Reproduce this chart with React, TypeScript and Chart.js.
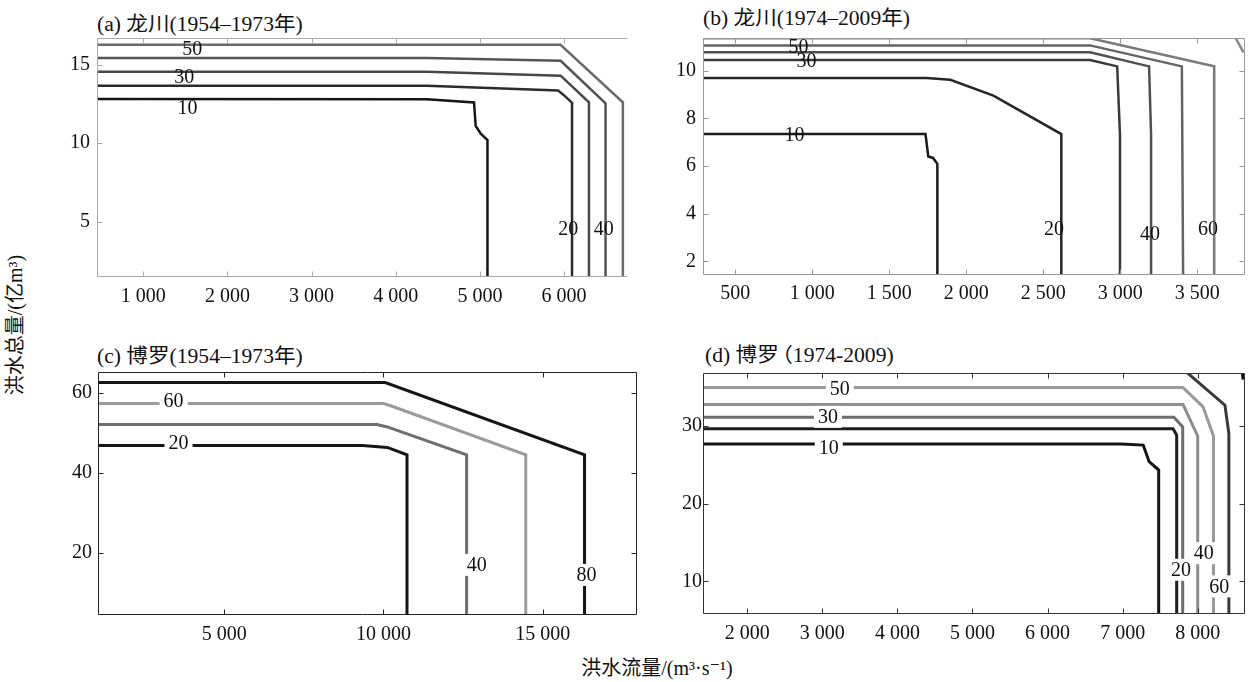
import React, { useEffect, useRef } from 'react';
import { Chart, registerables } from 'chart.js';

Chart.register(...registerables);

type Pt = [number, number];
type Lbl = { x: number; y: number; t: string };

// ---------- Panel (a) 龙川 1954–1973 ----------
const aXRange: Pt = [450, 6760];
const aYRange: Pt = [1.48, 16.7];
const aXTicks = [1000, 2000, 3000, 4000, 5000, 6000];
const aYTicks = [5, 10, 15];
const a10: Pt[] = [[450, 12.82], [4370, 12.8], [4930, 12.6], [4950, 11.1], [5010, 10.6], [5090, 10.2], [5090, 1.4]];
const a20: Pt[] = [[450, 13.66], [4370, 13.66], [5930, 13.36], [6010, 13.0], [6095, 12.58], [6095, 1.4]];
const a30: Pt[] = [[450, 14.55], [4370, 14.55], [5960, 14.3], [6296, 12.6], [6296, 1.4]];
const a40: Pt[] = [[450, 15.43], [4370, 15.43], [5960, 15.25], [6493, 12.54], [6493, 1.4]];
const a50: Pt[] = [[450, 16.27], [5958, 16.27], [6699, 12.6], [6699, 1.4]];
const aLabels: Lbl[] = [
  { x: 1583, y: 16.0, t: '50' }, { x: 1486, y: 14.26, t: '30' }, { x: 1525, y: 12.29, t: '10' },
  { x: 6051, y: 4.54, t: '20' }, { x: 6473, y: 4.54, t: '40' },
];

// ---------- Panel (b) 龙川 1974–2009 ----------
const bXRange: Pt = [290, 3810];
const bYRange: Pt = [1.43, 11.37];
const bXTicks = [500, 1000, 1500, 2000, 2500, 3000, 3500];
const bYTicks = [2, 4, 6, 8, 10];
const b10: Pt[] = [[290, 7.34], [1735, 7.34], [1753, 6.4], [1784, 6.34], [1812, 6.09], [1812, 1.4]];
const b20: Pt[] = [[290, 9.69], [1740, 9.69], [1896, 9.62], [2176, 8.95], [2617, 7.34], [2617, 1.4]];
const b30: Pt[] = [[290, 10.45], [2804, 10.45], [2980, 10.18], [2998, 7.3], [2998, 1.4]];
const b40: Pt[] = [[290, 10.77], [2804, 10.77], [3187, 10.18], [3200, 7.3], [3200, 1.4]];
const b50: Pt[] = [[290, 11.06], [2804, 11.06], [3400, 10.18], [3408, 1.4]];
const b60: Pt[] = [[290, 11.36], [2804, 11.36], [3610, 10.18], [3610, 1.4]];
const b70: Pt[] = [[3750, 11.36], [3800, 10.77]];
const bLabels: Lbl[] = [
  { x: 910, y: 11.02, t: '50' }, { x: 962, y: 10.42, t: '30' }, { x: 884, y: 7.31, t: '10' },
  { x: 2570, y: 3.39, t: '20' }, { x: 3193, y: 3.18, t: '40' }, { x: 3570, y: 3.35, t: '60' },
];

// ---------- Panel (c) 博罗 1954–1973 ----------
const cXRange: Pt = [1040, 17960];
const cYRange: Pt = [4.6, 65.2];
const cXTicks = [5000, 10000, 15000];
const cYTicks = [20, 40, 60];
const c20: Pt[] = [[1000, 46.9], [9347, 46.9], [10121, 46.4], [10740, 44.56], [10740, 4]];
const c40: Pt[] = [[1000, 52.1], [9799, 52.1], [10121, 51.5], [12611, 44.56], [12611, 4]];
const c60: Pt[] = [[1000, 57.34], [9992, 57.34], [10186, 56.9], [14469, 44.56], [14469, 4]];
const c80: Pt[] = [[1000, 62.57], [10057, 62.57], [16313, 44.56], [16313, 4]];
const cLabels: Lbl[] = [
  { x: 3413, y: 58.0, t: '60' }, { x: 3568, y: 47.6, t: '20' },
  { x: 12930, y: 17.1, t: '40' }, { x: 16378, y: 14.6, t: '80' },
];

// ---------- Panel (d) 博罗 1974-2009 ----------
const dXRange: Pt = [1410, 8630];
const dYRange: Pt = [5.8, 36.85];
const dXTicks = [2000, 3000, 4000, 5000, 6000, 7000, 8000];
const dYTicks = [10, 20, 30];
const d10: Pt[] = [[1400, 27.69], [6981, 27.69], [7274, 27.56], [7353, 25.42], [7480, 24.35], [7480, 5]];
const d20: Pt[] = [[1400, 29.66], [7672, 29.66], [7720, 28.84], [7720, 5]];
const d30: Pt[] = [[1400, 31.15], [7683, 31.15], [7800, 29.91], [7800, 5]];
const d40: Pt[] = [[1400, 32.78], [7805, 32.78], [8000, 28.72], [8000, 5]];
const d50: Pt[] = [[1400, 34.97], [7805, 34.97], [8071, 32.48], [8210, 28.72], [8210, 5]];
const d60: Pt[] = [[7858, 36.9], [8363, 32.7], [8415, 29.06], [8415, 5]];
const d70: Pt[] = [[8595, 36.85], [8605, 36.0]];
const dLabels: Lbl[] = [
  { x: 3233, y: 34.84, t: '50' }, { x: 3074, y: 31.2, t: '30' }, { x: 3085, y: 27.26, t: '10' },
  { x: 8082, y: 13.64, t: '40' }, { x: 7777, y: 11.5, t: '20' }, { x: 8287, y: 9.36, t: '60' },
];

const FONT = '"Liberation Serif", "DejaVu Serif", serif, "Noto Sans CJK SC"';
const FS = 20;

const fmt = (v: number) => {
  if (v < 1000) return String(v);
  const s = String(v);
  return s.slice(0, s.length - 3) + ' ' + s.slice(s.length - 3);
};

type Sides = { top: boolean; right: boolean; bottom: boolean; left: boolean };
type PanelCfg = {
  box: { left: number; top: number; width: number; height: number };
  plot: { left: number; top: number; right: number; bottom: number };
  xRange: Pt; yRange: Pt; xTicks: number[]; yTicks: number[];
  lines: { pts: Pt[]; color: string }[];
  lineWidth: number;
  labels: Lbl[]; labelBg: boolean;
  frameColor: string; sides: Sides;
  xPad: number; yPad: number;
};

function Panel({ cfg }: { cfg: PanelCfg }) {
  const ref = useRef<HTMLCanvasElement>(null);
  useEffect(() => {
    const canvas = ref.current!;
    const { box, plot } = cfg;
    const yAxisW = plot.left - box.left;
    const xAxisH = box.top + box.height - plot.bottom;
    const padTop = plot.top - box.top;
    const padRight = box.left + box.width - plot.right;

    const framePlugin = {
      id: 'frame',
      afterDraw(chart: any) {
        const { ctx, chartArea: a, scales } = chart;
        const xs = scales.x, ys = scales.y;
        const L = Math.round(a.left) + 0.5, R = Math.round(a.right) - 0.5;
        const T = Math.round(a.top) + 0.5, B = Math.round(a.bottom) - 0.5;
        const s = cfg.sides, tl = 5;
        ctx.save();
        ctx.strokeStyle = cfg.frameColor;
        ctx.lineWidth = 1;
        ctx.beginPath();
        if (s.top) { ctx.moveTo(L, T); ctx.lineTo(R, T); }
        if (s.bottom) { ctx.moveTo(L, B); ctx.lineTo(R, B); }
        if (s.left) { ctx.moveTo(L, T); ctx.lineTo(L, B); }
        if (s.right) { ctx.moveTo(R, T); ctx.lineTo(R, B); }
        xs.ticks.forEach((t: any) => {
          const px = Math.round(xs.getPixelForValue(t.value)) + 0.5;
          if (s.top) { ctx.moveTo(px, T); ctx.lineTo(px, T + tl); }
          if (s.bottom) { ctx.moveTo(px, B); ctx.lineTo(px, B - tl); }
        });
        ys.ticks.forEach((t: any) => {
          const py = Math.round(ys.getPixelForValue(t.value)) + 0.5;
          if (s.left) { ctx.moveTo(L, py); ctx.lineTo(L + tl, py); }
          if (s.right) { ctx.moveTo(R, py); ctx.lineTo(R - tl, py); }
        });
        ctx.stroke();
        ctx.restore();
      },
    };

    const labelPlugin = {
      id: 'clabels',
      afterDatasetsDraw(chart: any) {
        const { ctx, scales } = chart;
        const xs = scales.x, ys = scales.y;
        ctx.save();
        ctx.font = `${FS}px ${FONT}`;
        ctx.textAlign = 'center';
        ctx.textBaseline = 'middle';
        cfg.labels.forEach((l) => {
          const px = xs.getPixelForValue(l.x);
          const py = ys.getPixelForValue(l.y);
          const w = ctx.measureText(l.t).width;
          if (cfg.labelBg) {
            ctx.fillStyle = '#fff';
            ctx.fillRect(px - w / 2 - 4, py - 11, w + 8, 22);
          }
          ctx.fillStyle = '#111';
          ctx.fillText(l.t, px, py + 1);
        });
        ctx.restore();
      },
    };

    const chart = new Chart(canvas, {
      type: 'scatter',
      data: {
        datasets: cfg.lines.map((ln) => ({
          data: ln.pts.map(([x, y]) => ({ x, y })),
          showLine: true,
          borderColor: ln.color,
          backgroundColor: ln.color,
          borderWidth: cfg.lineWidth,
          pointRadius: 0,
          pointHoverRadius: 0,
          fill: false,
          tension: 0,
          borderJoinStyle: 'miter' as const,
        })),
      },
      options: {
        animation: false,
        responsive: false,
        maintainAspectRatio: false,
        layout: { padding: { top: padTop, right: padRight, left: 0, bottom: 0 } },
        plugins: { legend: { display: false }, tooltip: { enabled: false }, title: { display: false } },
        scales: {
          x: {
            type: 'linear',
            min: cfg.xRange[0],
            max: cfg.xRange[1],
            grid: { display: false, drawTicks: false },
            border: { display: false },
            ticks: {
              font: { family: FONT, size: FS },
              color: '#111',
              padding: cfg.xPad,
              maxRotation: 0,
              autoSkip: false,
              callback: (v: any) => fmt(Number(v)),
            },
            afterBuildTicks: (s: any) => { s.ticks = cfg.xTicks.map((v) => ({ value: v })); },
            afterFit: (s: any) => { s.height = xAxisH; },
          },
          y: {
            type: 'linear',
            min: cfg.yRange[0],
            max: cfg.yRange[1],
            grid: { display: false, drawTicks: false },
            border: { display: false },
            ticks: {
              font: { family: FONT, size: FS },
              color: '#111',
              padding: cfg.yPad,
              autoSkip: false,
              callback: (v: any) => fmt(Number(v)),
            },
            afterBuildTicks: (s: any) => { s.ticks = cfg.yTicks.map((v) => ({ value: v })); },
            afterFit: (s: any) => { s.width = yAxisW; },
          },
        },
      },
      plugins: [labelPlugin, framePlugin],
    } as any);
    return () => chart.destroy();
  }, [cfg]);
  const { box } = cfg;
  return (
    <canvas
      ref={ref}
      width={box.width}
      height={box.height}
      style={{ position: 'absolute', left: box.left, top: box.top, width: box.width, height: box.height }}
    />
  );
}

const panelA: PanelCfg = {
  box: { left: 30, top: 8, width: 610, height: 307 },
  plot: { left: 97, top: 38, right: 628, bottom: 277 },
  xRange: aXRange, yRange: aYRange, xTicks: aXTicks, yTicks: aYTicks,
  lines: [
    { pts: a10, color: '#151515' }, { pts: a20, color: '#2b2b2b' }, { pts: a30, color: '#474747' },
    { pts: a40, color: '#555555' }, { pts: a50, color: '#6a6a6a' },
  ],
  lineWidth: 2.5, labels: aLabels, labelBg: false,
  frameColor: '#aaaaaa', sides: { top: true, right: false, bottom: true, left: true },
  xPad: 8, yPad: 7,
};
const panelB: PanelCfg = {
  box: { left: 640, top: 8, width: 610, height: 307 },
  plot: { left: 703, top: 38, right: 1245, bottom: 275 },
  xRange: bXRange, yRange: bYRange, xTicks: bXTicks, yTicks: bYTicks,
  lines: [
    { pts: b10, color: '#1a1a1a' }, { pts: b20, color: '#262626' }, { pts: b30, color: '#3a3a3a' },
    { pts: b40, color: '#505050' }, { pts: b50, color: '#646464' }, { pts: b60, color: '#7a7a7a' },
    { pts: b70, color: '#888888' },
  ],
  lineWidth: 2.5, labels: bLabels, labelBg: false,
  frameColor: '#999999', sides: { top: true, right: true, bottom: true, left: true },
  xPad: 7, yPad: 7,
};
const panelC: PanelCfg = {
  box: { left: 30, top: 342, width: 615, height: 312 },
  plot: { left: 98, top: 372, right: 637, bottom: 615 },
  xRange: cXRange, yRange: cYRange, xTicks: cXTicks, yTicks: cYTicks,
  lines: [
    { pts: c20, color: '#161616' }, { pts: c40, color: '#6f6f6f' },
    { pts: c60, color: '#9b9b9b' }, { pts: c80, color: '#161616' },
  ],
  lineWidth: 3, labels: cLabels, labelBg: true,
  frameColor: '#222222', sides: { top: true, right: true, bottom: true, left: true },
  xPad: 8, yPad: 6,
};
const panelD: PanelCfg = {
  box: { left: 640, top: 343, width: 612, height: 312 },
  plot: { left: 703, top: 373, right: 1245, bottom: 614 },
  xRange: dXRange, yRange: dYRange, xTicks: dXTicks, yTicks: dYTicks,
  lines: [
    { pts: d10, color: '#151515' }, { pts: d20, color: '#1e1e1e' }, { pts: d30, color: '#6e6e6e' },
    { pts: d40, color: '#8f8f8f' }, { pts: d50, color: '#9a9a9a' }, { pts: d60, color: '#3a3a3a' },
    { pts: d70, color: '#111111' },
  ],
  lineWidth: 3, labels: dLabels, labelBg: true,
  frameColor: '#333333', sides: { top: true, right: true, bottom: true, left: true },
  xPad: 8, yPad: 1,
};

const titleStyle = (left: number, top: number): React.CSSProperties => ({
  position: 'absolute', left, top, fontFamily: FONT, fontSize: FS, lineHeight: `${FS}px`,
  color: '#111', whiteSpace: 'nowrap',
});
const panelTitle = (left: number, top: number): React.CSSProperties => ({
  ...titleStyle(left, top), transform: 'scaleX(1.08)', transformOrigin: 'left center',
});

export default function App() {
  return (
    <div style={{ position: 'absolute', left: 0, top: 0, width: 1253, height: 682, background: '#fff', overflow: 'hidden' }}>
      <div style={panelTitle(97, 14)}>(a) 龙川(1954–1973年)</div>
      <div style={panelTitle(703, 8)}>(b) 龙川(1974–2009年)</div>
      <div style={panelTitle(97, 346)}>(c) 博罗(1954–1973年)</div>
      <div style={panelTitle(705, 345)}>(d) 博罗<span style={{ marginLeft: -7 }}>（</span>1974-2009)</div>
      <Panel cfg={panelA} />
      <Panel cfg={panelB} />
      <Panel cfg={panelC} />
      <Panel cfg={panelD} />
      <div style={{ ...titleStyle(557, 658), width: 200, textAlign: 'center' }}>洪水流量/(m³·s⁻¹)</div>
      <div
        style={{
          ...titleStyle(15 - 100, 325 - 10), width: 200, height: 20, lineHeight: '20px',
          textAlign: 'center', transform: 'rotate(-90deg)',
        }}
      >
        洪水总量/(亿m³)
      </div>
    </div>
  );
}
